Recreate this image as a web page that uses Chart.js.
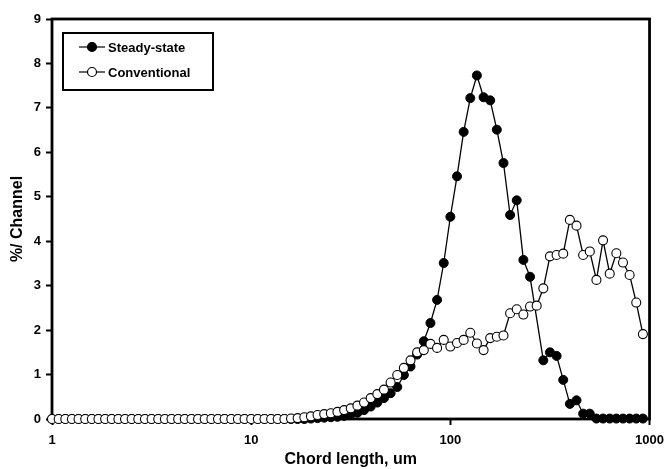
<!DOCTYPE html>
<html>
<head>
<meta charset="utf-8">
<script src="https://cdn.jsdelivr.net/npm/chart.js@4.4.1/dist/chart.umd.min.js"></script>
<style>
  body { margin: 0; background: #fff; }
  canvas { display: block; }
</style>
</head>
<body>
<canvas id="grafico" width="672" height="469"></canvas>
<script>
// FBRM chord length channels (90 log-spaced channels, um)
const chordLength = [
  1.000, 1.080, 1.166, 1.259, 1.359, 1.468, 1.585, 1.711, 1.848, 1.995,
  2.154, 2.326, 2.512, 2.712, 2.929, 3.162, 3.415, 3.687, 3.981, 4.299,
  4.642, 5.012, 5.412, 5.843, 6.310, 6.813, 7.356, 7.943, 8.577, 9.261,
  10.00, 10.80, 11.66, 12.59, 13.59, 14.68, 15.85, 17.11, 18.48, 19.95,
  21.54, 23.26, 25.12, 27.12, 29.29, 31.62, 34.15, 36.87, 39.81, 42.99,
  46.42, 50.12, 54.12, 58.43, 63.10, 68.13, 73.56, 79.43, 85.77, 92.61,
  100.0, 108.0, 116.6, 125.9, 135.9, 146.8, 158.5, 171.1, 184.8, 199.5,
  215.4, 232.6, 251.2, 271.2, 292.9, 316.2, 341.5, 368.7, 398.1, 429.9,
  464.2, 501.2, 541.2, 584.3, 631.0, 681.3, 735.6, 794.3, 857.7, 926.1
];

// % per channel
const steadyState = [
  0, 0, 0, 0, 0, 0, 0, 0, 0, 0,
  0, 0, 0, 0, 0, 0, 0, 0, 0, 0,
  0, 0, 0, 0, 0, 0, 0, 0, 0, 0,
  0, 0, 0, 0, 0, 0, 0, 0, 0, 0.01,
  0.02, 0.03, 0.04, 0.05, 0.07, 0.10, 0.14, 0.20, 0.28, 0.37,
  0.47, 0.58, 0.72, 0.99, 1.18, 1.45, 1.75, 2.16, 2.68, 3.51,
  4.55, 5.46, 6.46, 7.22, 7.73, 7.24, 7.17, 6.51, 5.76, 4.59,
  4.92, 3.58, 3.20, null, 1.32, 1.50, 1.42, 0.88, 0.34, 0.42,
  0.12, 0.12, 0.01, 0.01, 0.01, 0.01, 0.01, 0.01, 0.01, 0.01
];

const conventional = [
  0, 0, 0, 0, 0, 0, 0, 0, 0, 0,
  0, 0, 0, 0, 0, 0, 0, 0, 0, 0,
  0, 0, 0, 0, 0, 0, 0, 0, 0, 0,
  0, 0, 0, 0, 0, 0, 0.01, 0.02, 0.04, 0.06,
  0.09, 0.11, 0.13, 0.16, 0.20, 0.24, 0.30, 0.37, 0.47, 0.56,
  0.66, 0.82, 0.99, 1.15, 1.32, 1.50, 1.55, 1.69, 1.60, 1.78,
  1.63, 1.71, 1.78, 1.94, 1.70, 1.55, 1.82, 1.85, 1.88, 2.38,
  2.47, 2.35, 2.53, 2.55, 2.94, 3.66, 3.69, 3.72, 4.48, 4.35,
  3.69, 3.77, 3.13, 4.02, 3.27, 3.73, 3.52, 3.24, 2.62, 1.91
];

const xTicks = [1, 10, 100, 1000];

const toPoints = (serie) => chordLength.map((x, i) => ({ x: x, y: serie[i] }));

// frame around the plot area, drawn under the markers
const moldura = {
  id: 'moldura',
  beforeDatasetsDraw(chart) {
    const { ctx, chartArea: a } = chart;
    ctx.save();
    ctx.strokeStyle = '#000';
    ctx.lineWidth = 2.8;
    ctx.strokeRect(a.left, a.top, a.right - a.left, a.bottom - a.top);
    ctx.restore();
  }
};

// boxed legend inside the upper-left corner
const legenda = {
  id: 'legenda',
  afterDraw(chart) {
    const { ctx } = chart;
    ctx.save();
    ctx.strokeStyle = '#000';
    ctx.lineWidth = 2;
    ctx.strokeRect(63, 33, 150, 57);
    ctx.font = 'bold 13px "Liberation Sans", Arial, sans-serif';
    ctx.textBaseline = 'middle';
    ctx.fillStyle = '#000';
    chart.data.datasets.forEach((ds, i) => {
      const y = 47 + i * 25;
      ctx.lineWidth = 1.2;
      ctx.beginPath();
      ctx.moveTo(79, y);
      ctx.lineTo(105, y);
      ctx.stroke();
      ctx.beginPath();
      ctx.arc(92, y, 4.5, 0, Math.PI * 2);
      ctx.fillStyle = ds.pointBackgroundColor;
      ctx.fill();
      ctx.stroke();
      ctx.fillStyle = '#000';
      ctx.fillText(ds.label, 108, y + 1);
    });
    ctx.restore();
  }
};

const fonteTick = { family: '"Liberation Sans", Arial, sans-serif', size: 13, weight: 'bold' };
const fonteTitulo = { family: '"Liberation Sans", Arial, sans-serif', size: 16, weight: 'bold' };

new Chart(document.getElementById('grafico'), {
  type: 'line',
  data: {
    datasets: [{
      label: 'Steady-state',
      data: toPoints(steadyState),
      borderColor: '#000',
      borderWidth: 1.3,
      pointRadius: 4.5,
      pointBackgroundColor: '#000',
      pointBorderColor: '#000',
      pointBorderWidth: 1,
      spanGaps: true,
      clip: false,
      order: 1
    }, {
      label: 'Conventional',
      data: toPoints(conventional),
      borderColor: '#000',
      borderWidth: 1.3,
      pointRadius: 4.5,
      pointBackgroundColor: '#fff',
      pointBorderColor: '#000',
      pointBorderWidth: 1.1,
      clip: false,
      order: 0
    }]
  },
  options: {
    responsive: false,
    animation: false,
    layout: { padding: { left: 0, right: 20, top: 19, bottom: 0 } },
    plugins: {
      legend: { display: false },
      tooltip: { enabled: false }
    },
    scales: {
      x: {
        type: 'logarithmic',
        min: 1,
        max: 1000,
        afterBuildTicks: (scale) => { scale.ticks = xTicks.map(v => ({ value: v })); },
        afterFit: (scale) => { scale.height = 50; },
        border: { display: false },
        grid: { drawOnChartArea: false, drawTicks: true, tickLength: 6, tickWidth: 2, tickColor: '#000' },
        ticks: {
          color: '#000',
          font: fonteTick,
          padding: 8,
          maxRotation: 0,
          autoSkip: false,
          callback: (v) => String(v)
        },
        title: {
          display: true,
          text: 'Chord length, um',
          color: '#000',
          font: fonteTitulo,
          padding: { top: 0, bottom: 0 }
        }
      },
      y: {
        min: 0,
        max: 9,
        afterFit: (scale) => { scale.width = 52; },
        border: { display: false },
        grid: { drawOnChartArea: false, drawTicks: true, tickLength: 6, tickWidth: 2, tickColor: '#000' },
        ticks: {
          stepSize: 1,
          color: '#000',
          font: fonteTick,
          padding: 5
        },
        title: {
          display: true,
          text: '%/ Channel',
          color: '#000',
          font: fonteTitulo,
          padding: { top: 8, bottom: 0 }
        }
      }
    }
  },
  plugins: [moldura, legenda]
});
</script>
</body>
</html>
